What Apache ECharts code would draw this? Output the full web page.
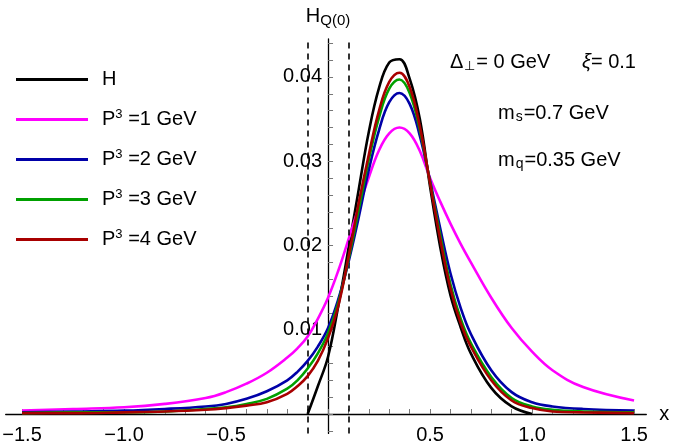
<!DOCTYPE html>
<html>
<head>
<meta charset="utf-8">
<script src="https://cdn.jsdelivr.net/npm/echarts@6/dist/echarts.min.js"></script>
<style>
  html, body { margin: 0; padding: 0; background: #fff; }
  #chart { width: 675px; height: 448px; }
</style>
</head>
<body>
<div id="chart"></div>
<script>
// x grid shared by the quasi-PDF curves
const xs = [-1.5, -1.25, -1.0, -0.8, -0.6, -0.5, -0.4, -0.3, -0.2, -0.15, -0.1, -0.05, 0,
  0.05, 0.1, 0.15, 0.2, 0.25, 0.3, 0.35, 0.4, 0.45, 0.5, 0.55, 0.6, 0.65, 0.7, 0.8, 0.9, 1.0, 1.1, 1.25, 1.5];

// H only lives on [-xi, 1]
const xH = [-0.1, -0.05, 0, 0.05, 0.1, 0.15, 0.2, 0.25, 0.3, 0.35, 0.4, 0.45, 0.5, 0.55, 0.6, 0.65, 0.7, 0.8, 0.9, 1.0];
const valH = [0, 0.0033, 0.0068, 0.0128, 0.0196, 0.0266, 0.0335, 0.0387, 0.0417, 0.0421, 0.0398, 0.0350,
  0.0270, 0.0198, 0.0141, 0.0103, 0.0072, 0.0031, 0.0009, 0];

const valP1 = [0.0004, 0.0006, 0.0008, 0.0012, 0.0019, 0.0026, 0.0036, 0.0049, 0.0067, 0.0078, 0.0092, 0.0113, 0.0138,
  0.0170, 0.0207, 0.0245, 0.0281, 0.0313, 0.0333, 0.0340, 0.0333, 0.0312, 0.0280, 0.0252, 0.0226, 0.0202, 0.0180,
  0.0138, 0.0102, 0.0074, 0.0052, 0.0032, 0.0016];
const valP2 = [0.0002, 0.0003, 0.0004, 0.0006, 0.0009, 0.0012, 0.0018, 0.0027, 0.0040, 0.0050, 0.0063, 0.0080, 0.0102,
  0.0136, 0.0180, 0.0233, 0.0290, 0.0337, 0.0370, 0.0381, 0.0368, 0.0330, 0.0277, 0.0220, 0.0167, 0.0126, 0.0095,
  0.0052, 0.0026, 0.0014, 0.0009, 0.0006, 0.0004];
const valP3 = [0.0001, 0.0002, 0.0002, 0.0003, 0.0006, 0.0008, 0.0012, 0.0018, 0.0030, 0.0040, 0.0054, 0.0072, 0.0096,
  0.0132, 0.0183, 0.0242, 0.0302, 0.0352, 0.0386, 0.0397, 0.0381, 0.0337, 0.0275, 0.0212, 0.0154, 0.0113, 0.0084,
  0.0044, 0.0019, 0.0009, 0.0005, 0.0003, 0.0002];
const valP4 = [0.0001, 0.0001, 0.0002, 0.0003, 0.0005, 0.0007, 0.0010, 0.0014, 0.0024, 0.0033, 0.0045, 0.0063, 0.0090,
  0.0128, 0.0186, 0.0250, 0.0308, 0.0360, 0.0394, 0.0405, 0.0388, 0.0341, 0.0274, 0.0207, 0.0149, 0.0108, 0.0080,
  0.0040, 0.0016, 0.0007, 0.0003, 0.0002, 0.0001];

const seriesNames = ['H', 'P3 =1 GeV', 'P3 =2 GeV', 'P3 =3 GeV', 'P3 =4 GeV'];
const seriesColors = ['#000000', '#ff00ff', '#0000a8', '#00a000', '#a80000'];

const xiLines = [-0.1, 0.1];
const xLabelValues = [-1.5, -1.0, -0.5, 0.5, 1.0, 1.5];
const yLabelValues = [0.01, 0.02, 0.03, 0.04];

// minor ticks: every 0.1 on x, every 0.002 on y
const xTicks = [];
for (let i = -15; i <= 15; i++) xTicks.push(i / 10);
const yTicks = [];
for (let i = -1; i <= 22; i++) yTicks.push(i * 0.002);

const FONT = 'Liberation Sans, Arial, sans-serif';

// plot box and ranges
const W = 675, H = 448;
const grid = { left: 5.7, right: 28.7, top: 39, bottom: 14.6 };
const xMin = -1.58, xMax = 1.56, yMin = -0.0023, yMax = 0.0445;

// axes cross at (0, 0): shift them in from the grid edges
const xAxisOffset = -(0 - yMin) / (yMax - yMin) * (H - grid.top - grid.bottom);
const yAxisOffset = -(0 - xMin) / (xMax - xMin) * (W - grid.left - grid.right);

const pair = (x, y) => x.map((v, i) => [v, y[i]]);

const chart = echarts.init(document.getElementById('chart'), null, { renderer: 'canvas' });

const lineSeries = [valH, valP1, valP2, valP3, valP4].map((vals, i) => ({
  name: seriesNames[i],
  type: 'line',
  data: i === 0 ? pair(xH, vals) : pair(xs, vals),
  smooth: 0.4,
  showSymbol: false,
  color: seriesColors[i],
  lineStyle: { width: 2.6, color: seriesColors[i] },
  z: 3 + i
}));

// dashed lines at x = +-xi
lineSeries[0].markLine = {
  silent: true,
  symbol: 'none',
  label: { show: false },
  lineStyle: { type: [6, 5], color: '#000', width: 1.6 },
  data: xiLines.map(v => ({ xAxis: v }))
};

const option = {
  animation: false,
  backgroundColor: '#fff',
  textStyle: { fontFamily: FONT },
  grid: Object.assign({ containLabel: false, outerBoundsMode: 'none' }, grid),
  legend: {
    orient: 'vertical',
    left: 16,
    top: 67,
    padding: 0,
    itemGap: 15,
    itemWidth: 72,
    itemHeight: 3,
    icon: 'rect',
    selectedMode: false,
    data: seriesNames,
    formatter: name => '{gap|}' + (name === 'H' ? 'H{sup| }' : name.replace('P3', 'P{sup|3}')),
    textStyle: {
      fontSize: 20,
      color: '#000',
      fontFamily: FONT,
      lineHeight: 25,
      rich: {
        gap: { width: 9 },
        sup: { fontSize: 13, padding: [0, 0, 10, 0], fontFamily: FONT }
      }
    }
  },
  xAxis: {
    type: 'value',
    min: xMin,
    max: xMax,
    position: 'bottom',
    offset: xAxisOffset,
    name: 'x',
    nameLocation: 'end',
    nameGap: 13,
    nameTextStyle: { fontSize: 20, color: '#000', fontFamily: FONT },
    splitLine: { show: false },
    axisLine: { onZero: false, lineStyle: { color: '#000', width: 1.3 } },
    axisTick: { inside: true, length: 5, customValues: xTicks, lineStyle: { color: '#777', width: 1 } },
    axisLabel: {
      customValues: xLabelValues,
      margin: 11,
      fontSize: 20,
      color: '#000',
      fontFamily: FONT,
      formatter: v => (v < 0 ? '\u2212' : '') + Math.abs(v).toFixed(1)
    }
  },
  yAxis: {
    type: 'value',
    min: yMin,
    max: yMax,
    position: 'left',
    offset: yAxisOffset,
    name: 'H{sub|Q(0)}',
    nameLocation: 'end',
    nameGap: 11,
    nameTextStyle: {
      fontSize: 20, color: '#000', fontFamily: FONT, align: 'center',
      rich: { sub: { fontSize: 15, padding: [9, 0, 0, 0], fontFamily: FONT } }
    },
    splitLine: { show: false },
    axisLine: { onZero: false, lineStyle: { color: '#000', width: 1.3 } },
    axisTick: { inside: true, length: 5, customValues: yTicks, lineStyle: { color: '#777', width: 1 } },
    axisLabel: {
      customValues: yLabelValues,
      margin: 6,
      fontSize: 20,
      color: '#000',
      fontFamily: FONT,
      formatter: v => v.toFixed(2)
    }
  },
  graphic: [
    {
      type: 'text', x: 450, y: 62,
      style: {
        text: '\u0394{sub|\u22a5}= 0 GeV', fontSize: 20, fontFamily: FONT, fill: '#000', verticalAlign: 'middle',
        rich: { sub: { fontSize: 13, padding: [8, 1, 0, 1], fontFamily: FONT } }
      }
    },
    {
      type: 'text', x: 582, y: 62,
      style: {
        text: '{i|\u03be}= 0.1', fontSize: 20, fontFamily: FONT, fill: '#000', verticalAlign: 'middle',
        rich: { i: { fontStyle: 'italic', fontSize: 20, fontFamily: FONT } }
      }
    },
    {
      type: 'text', x: 498, y: 113,
      style: {
        text: 'm{sub|s}=0.7 GeV', fontSize: 20, fontFamily: FONT, fill: '#000', verticalAlign: 'middle',
        rich: { sub: { fontSize: 14, padding: [8, 1, 0, 1], fontFamily: FONT } }
      }
    },
    {
      type: 'text', x: 498, y: 160,
      style: {
        text: 'm{sub|q}=0.35 GeV', fontSize: 20, fontFamily: FONT, fill: '#000', verticalAlign: 'middle',
        rich: { sub: { fontSize: 14, padding: [8, 1, 0, 1], fontFamily: FONT } }
      }
    }
  ],
  series: lineSeries
};

chart.setOption(option);
</script>
</body>
</html>
